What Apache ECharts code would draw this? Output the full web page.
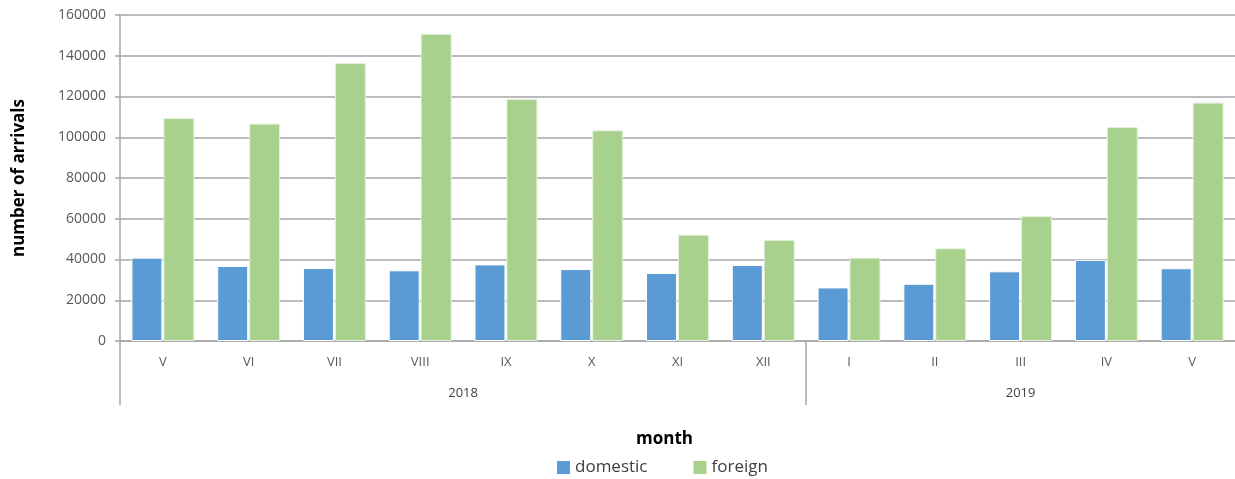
<!DOCTYPE html>
<html>
<head>
<meta charset="utf-8">
<script src="https://cdn.jsdelivr.net/npm/echarts@6/dist/echarts.min.js"></script>
<style>
  html, body { margin: 0; padding: 0; background: #fff; }
  #chart { width: 1235px; height: 479px; }
</style>
</head>
<body>
<div id="chart"></div>
<script>
var months = ['V', 'VI', 'VII', 'VIII', 'IX', 'X', 'XI', 'XII', 'I', 'II', 'III', 'IV', 'V']
var years = ['2018', '2019']
var yearStart = [0, 8]      // category index where each year begins
var yearMid = [4, 10.5]     // middle of each year group (in category units)
var domestic = [40900, 36800, 35800, 34700, 37600, 35300, 33400, 37300, 26300, 28100, 34200, 39800, 35700]
var foreign = [109400, 106700, 136400, 150800, 118800, 103400, 52200, 49600, 40900, 45500, 61300, 105000, 117000]

var font = 'Open Sans'
var myChart = echarts.init(document.getElementById('chart'))
var option = {
    animation: false,
    textStyle: { fontFamily: font },
    grid: { left: 120, right: 0, top: 15, bottom: 138, outerBoundsMode: 'none', containLabel: false },
    legend: {
        bottom: -2,
        left: 552,
        icon: 'rect',
        itemWidth: 13,
        itemHeight: 13,
        itemGap: 46,
        itemStyle: { borderWidth: 0 },
        textStyle: { fontSize: 17, color: '#404040', fontFamily: font },
        data: ['domestic', 'foreign']
    },
    xAxis: [
        {
            type: 'category',
            data: months,
            name: 'month',
            nameLocation: 'middle',
            nameGap: 90,
            nameTextStyle: { fontSize: 17, fontWeight: 'bold', color: '#000', fontFamily: font, padding: [0, 26, 0, 0] },
            axisLine: { lineStyle: { color: '#a6a6a6', width: 1.5 } },
            axisTick: { show: false },
            axisLabel: { color: '#595959', fontSize: 13, fontFamily: font, margin: 15 }
        },
        {
            // year level of the axis
            type: 'value',
            min: 0,
            max: months.length,
            position: 'bottom',
            splitLine: { show: false },
            axisLine: { show: false },
            axisTick: {
                show: true,
                length: 64,
                customValues: yearStart,
                lineStyle: { color: '#a6a6a6', width: 1.5 }
            },
            axisLabel: {
                customValues: yearMid,
                margin: 46,
                color: '#404040',
                fontSize: 13,
                fontFamily: font,
                formatter: function (v) {
                    return years[yearMid.indexOf(v)]
                }
            }
        }
    ],
    yAxis: {
        type: 'value',
        min: 0,
        max: 160000,
        interval: 20000,
        name: 'number of arrivals',
        nameLocation: 'middle',
        nameGap: 92,
        nameTextStyle: { fontSize: 17, fontWeight: 'bold', color: '#000', fontFamily: font },
        axisLine: { show: true, lineStyle: { color: '#a6a6a6', width: 1.5 } },
        axisTick: { show: true, length: 5, lineStyle: { color: '#a6a6a6', width: 1.5 } },
        axisLabel: {
            color: '#595959', fontSize: 14, fontFamily: font, margin: 14,
            formatter: function (v) { return String(v) }
        },
        splitLine: { lineStyle: { color: '#a6a6a6', width: 1.5 } }
    },
    series: [
        {
            name: 'domestic',
            type: 'bar',
            xAxisIndex: 0,
            barWidth: 31,
            barGap: '3%',
            itemStyle: { color: '#5b9bd5', borderColor: '#ffffff', borderWidth: 1 },
            data: domestic
        },
        {
            name: 'foreign',
            type: 'bar',
            xAxisIndex: 0,
            barWidth: 31,
            itemStyle: { color: '#a9d18e', borderColor: '#e6f2dd', borderWidth: 1 },
            data: foreign
        }
    ]
}
myChart.setOption(option)
</script>
</body>
</html>
